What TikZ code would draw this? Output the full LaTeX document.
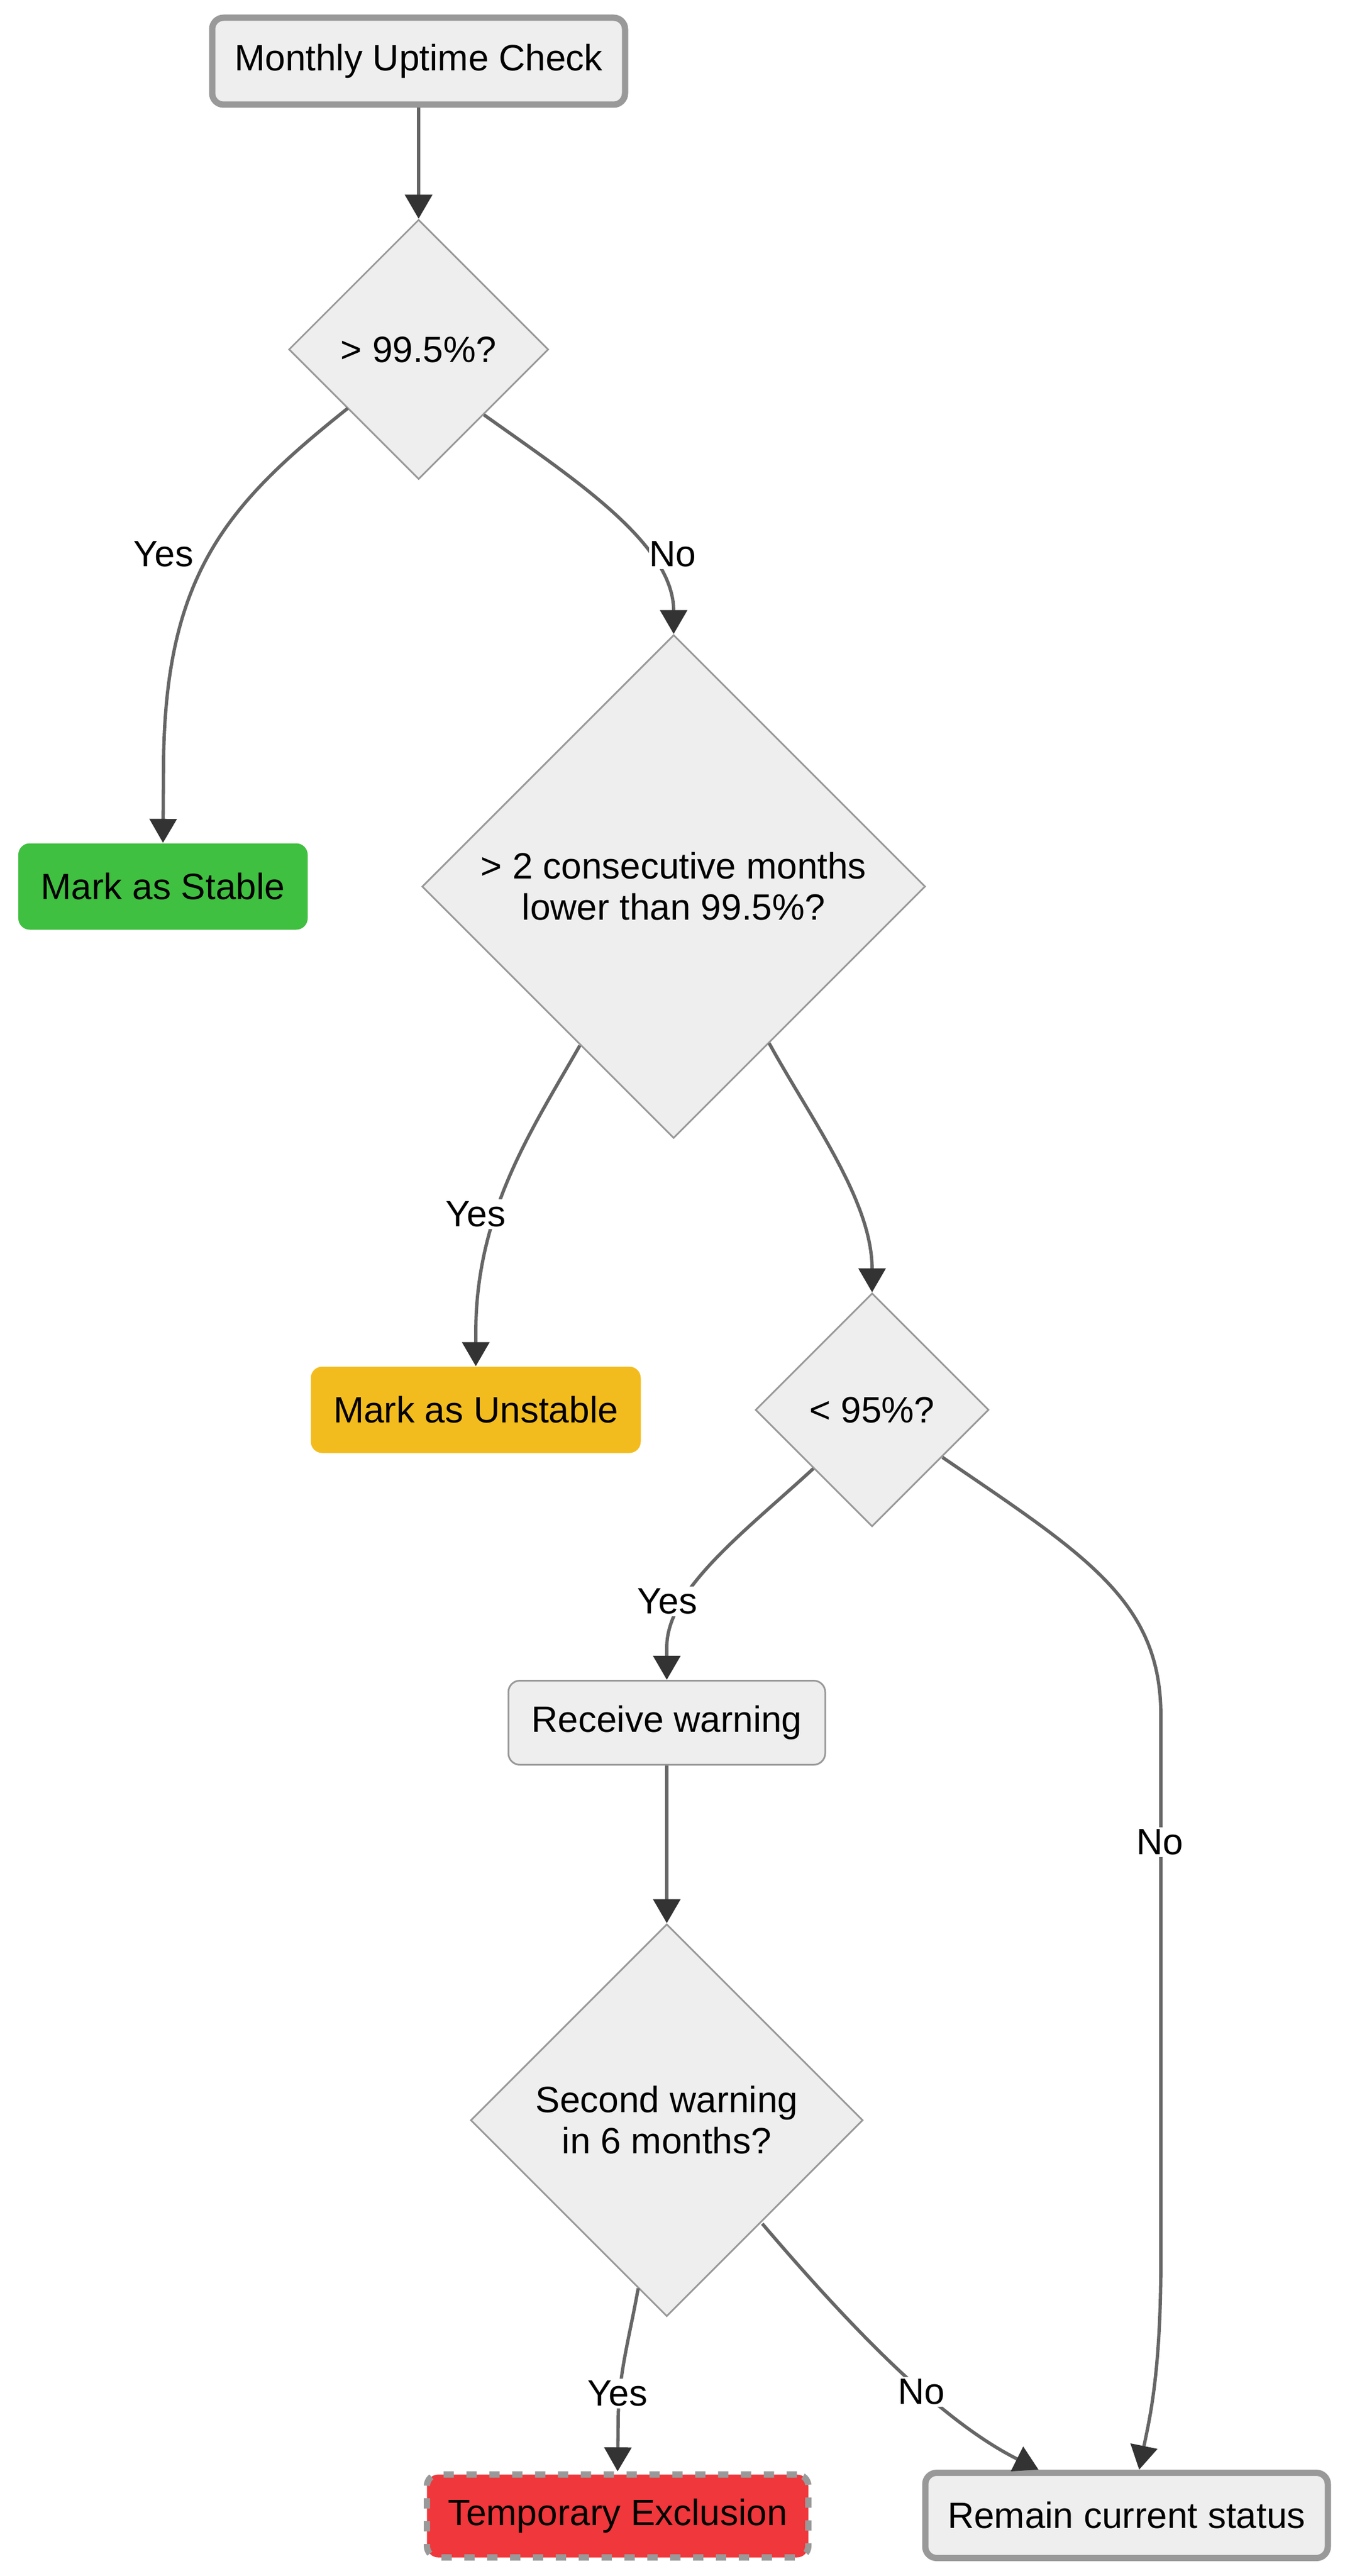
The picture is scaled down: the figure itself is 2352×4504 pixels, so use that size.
\documentclass[tikz,border=0pt]{standalone}
\usepackage{fontspec}
\setmainfont{Liberation Sans}
\usetikzlibrary{shapes.geometric,arrows.meta,calc}
\definecolor{boxfill}{HTML}{EEEEEE}
\definecolor{boxline}{HTML}{999999}
\definecolor{edgecol}{HTML}{666666}
\definecolor{tipcol}{HTML}{333333}
\definecolor{okgreen}{HTML}{40C040}
\definecolor{warnyellow}{HTML}{F3BC1E}
\definecolor{badred}{HTML}{F0373B}
\begin{document}
\begin{tikzpicture}[x=0.25pt,y=-0.25pt,
  every node/.style={font=\fontsize{16pt}{18pt}\selectfont, align=center, text=black},
  basebox/.style={rectangle, rounded corners=5pt, inner sep=0pt},
  thickbox/.style={basebox, fill=boxfill, draw=boxline, line width=2.75pt},
  thinbox/.style={basebox, fill=boxfill, draw=boxline, line width=0.75pt},
  colbox/.style={basebox},
  dec/.style={diamond, aspect=1, inner sep=0pt, fill=boxfill, draw=boxline, line width=0.75pt},
  edge/.style={draw=edgecol, line width=1.45pt, -{Triangle[length=10.5pt,width=11.75pt,color=tipcol]}},
  lbl/.style={fill=white, inner xsep=0pt, inner ysep=1pt}
]
\useasboundingbox (0,0) rectangle (2352,4504);

% nodes
\node[thickbox, minimum width=180.5pt, minimum height=38pt] (start) at (732,107) {Monthly Uptime Check};
\node[dec, minimum width=113.5pt, minimum height=113.5pt] (d1) at (732,611) {> 99.5\%?};
\node[colbox, fill=okgreen, minimum width=126.5pt, minimum height=37.75pt] (stable) at (285,1550) {Mark as Stable};
\node[dec, minimum width=220pt, minimum height=220pt] (d2) at (1178,1550) {> 2 consecutive months\\lower than 99.5\%?};
\node[colbox, fill=warnyellow, minimum width=144.25pt, minimum height=37.75pt] (unstable) at (832,2465) {Mark as Unstable};
\node[dec, minimum width=102pt, minimum height=102pt] (d3) at (1525,2465) {< 95\%?};
\node[thinbox, minimum width=138.5pt, minimum height=36.75pt] (warn) at (1166,3012) {Receive warning};
\node[dec, minimum width=171.5pt, minimum height=171.5pt] (d4) at (1166,3707) {Second warning\\in 6 months?};
\node[thickbox, fill=badred, dash pattern=on 4.5pt off 5.5pt, minimum width=166.75pt, minimum height=36.25pt] (excl) at (1080,4399) {Temporary Exclusion};
\node[thickbox, minimum width=176pt, minimum height=37.25pt] (remain) at (1970,4398) {Remain current status};

% edges
\draw[edge] (start.south) -- (d1.north);
\draw[edge] ($(d1)+(-124,103)$) .. controls (400,880) and (290,1000) .. (286,1330) -- (stable.north);
\draw[edge] (d1.south east) .. controls (1000,835) and (1178,950) .. (d2.north);
\draw[edge] ($(d2)+(-164,278)$) .. controls (930,1975) and (832,2120) .. (832,2330) -- (unstable.north);
\draw[edge] ($(d2)+(167,274)$) .. controls (1420,1960) and (1525,2100) .. (d3.north);
\draw[edge] (d3.south west) .. controls (1300,2680) and (1166,2780) .. (1166,2880) -- (warn.north);
\draw[edge] ($(d3)+(123,83)$) .. controls (1900,2720) and (2030,2800) .. (2030,3000) -- (2030,3950) .. controls (2030,4150) and (2010,4230) .. ($(remain.north)+(22,0)$);
\draw[edge] (warn.south) -- (d4.north);
\draw[edge] ($(d4)+(-50,294)$) .. controls (1100,4090) and (1082,4150) .. (1081,4230) -- (excl.north);
\draw[edge] ($(d4)+(167,181)$) .. controls (1480,4060) and (1640,4230) .. ($(remain.north)+(-154,0)$);

% labels
\node[lbl] (l1) at (286,969) {Yes};
\node[lbl] (l2) at (1176,969) {No};
\node[lbl] (l3) at (832,2123) {Yes};
\node[lbl] (l4) at (1167,2800) {Yes};
\node[lbl] (l5) at (2028,3221) {No};
\node[lbl] (l6) at (1080,4185) {Yes};
\node[lbl] (l7) at (1611,4182) {No};
\end{tikzpicture}
\end{document}
